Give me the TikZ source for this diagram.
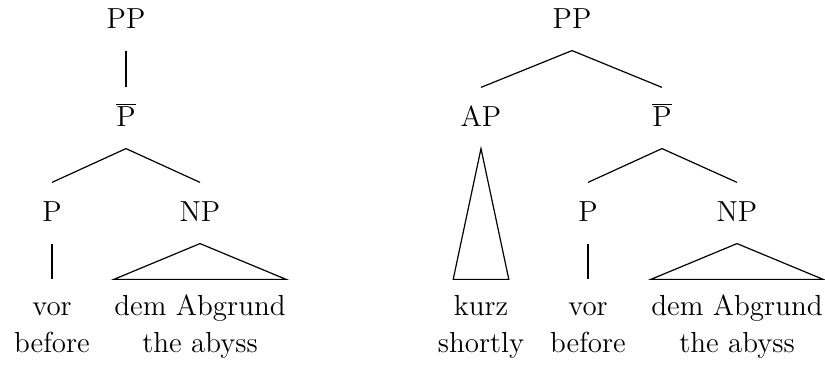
\documentclass[tikz,border=0pt]{standalone}
\begin{document}
\begin{tikzpicture}[x=0.5pt,y=-0.5pt,line width=0.6pt,
  font=\fontsize{14.5pt}{17pt}\selectfont,
  cat/.style={anchor=base,inner xsep=0pt,inner ysep=10.5pt,text height=9pt,text depth=0pt},
  word/.style={anchor=base,inner xsep=0pt,inner ysep=9pt,text height=9pt,text depth=0pt},
  gloss/.style={anchor=base,inner sep=0pt}]

  \useasboundingbox (0,0) rectangle (825,368);

  \node[cat] (pp) at (126,29) {PP};
  \node[cat] (pbar) at (126,127) {$\overline{\mbox{P}}$};
  \node[cat] (p) at (52,222) {P};
  \node[cat] (np) at (200,222) {NP};
  \node[word] (vor) at (52,316) {vor};
  \node[word] (abgrund) at (200,316) {dem Abgrund};
  \node[gloss] (before) at (52,353) {before};
  \node[gloss] (abyss) at (200,353) {the abyss};

  \draw (pp.south) -- (pbar.north);
  \draw (pbar.south) -- (p.north);
  \draw (pbar.south) -- (np.north);
  \draw (p.south) -- (vor.north);
  \draw (np.south) -- (abgrund.north west) -- (abgrund.north east) -- cycle;

  \node[cat] (pp2) at (572,29) {PP};
  \node[cat] (ap) at (481,127) {AP};
  \node[cat] (pbar2) at (662,127) {$\overline{\mbox{P}}$};
  \node[cat] (p2) at (588,222) {P};
  \node[cat] (np2) at (737,222) {NP};
  \node[word] (kurz) at (481,316) {kurz};
  \node[word] (vor2) at (588,316) {vor};
  \node[word] (abgrund2) at (737,316) {dem Abgrund};
  \node[gloss] (shortly) at (481,353) {shortly};
  \node[gloss] (before2) at (588,353) {before};
  \node[gloss] (abyss2) at (737,353) {the abyss};

  \draw (pp2.south) -- (ap.north);
  \draw (pp2.south) -- (pbar2.north);
  \draw (ap.south) -- (kurz.north west) -- (kurz.north east) -- cycle;
  \draw (pbar2.south) -- (p2.north);
  \draw (pbar2.south) -- (np2.north);
  \draw (p2.south) -- (vor2.north);
  \draw (np2.south) -- (abgrund2.north west) -- (abgrund2.north east) -- cycle;
\end{tikzpicture}
\end{document}
